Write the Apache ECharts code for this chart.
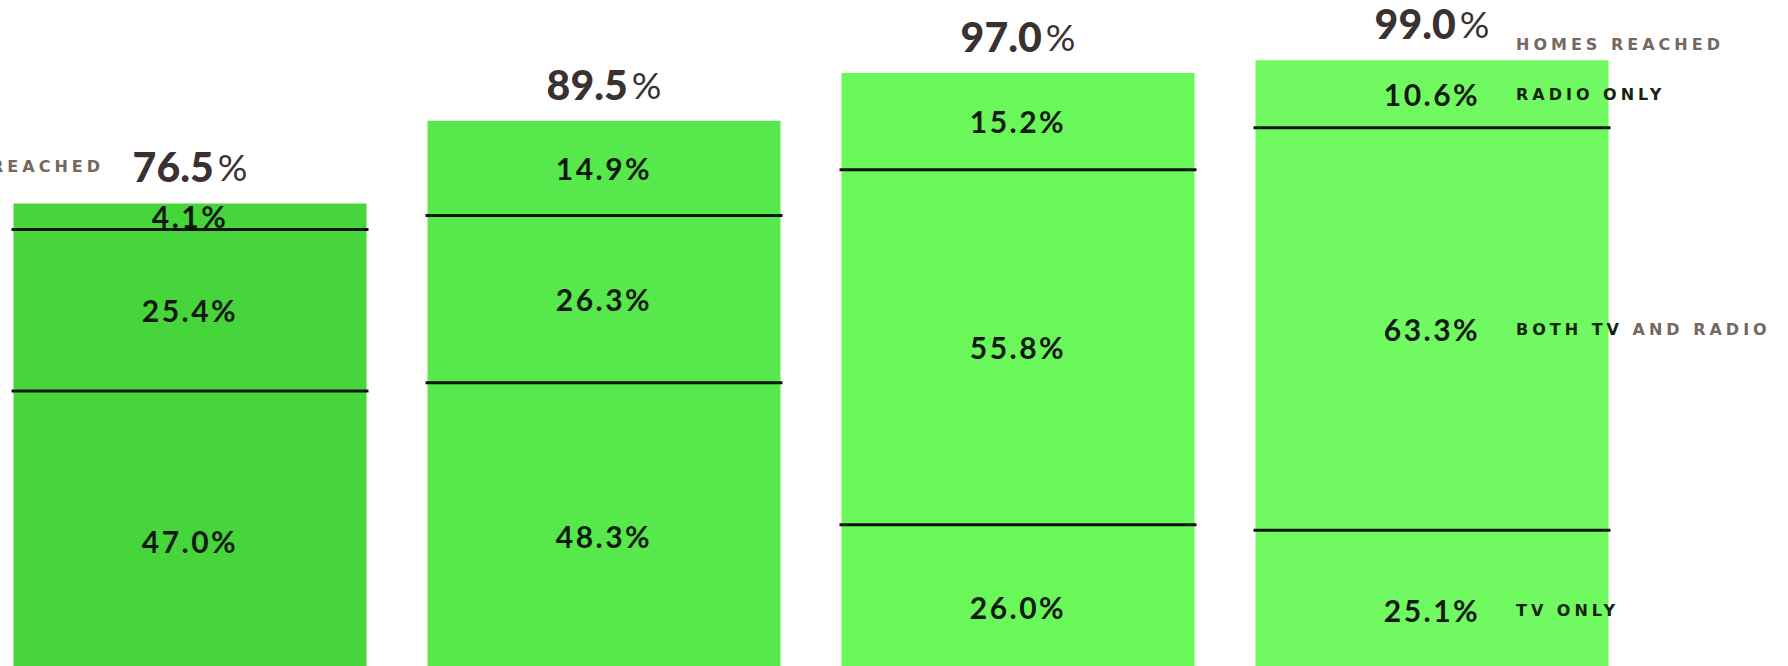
<!DOCTYPE html>
<html>
<head>
<meta charset="utf-8">
<script src="https://cdn.jsdelivr.net/npm/echarts@6/dist/echarts.min.js"></script>
<style>
html,body{margin:0;padding:0;background:#ffffff;overflow:hidden;width:1788px;height:666px;}
#chart{position:absolute;left:-17px;top:0;width:1805px;height:690px;}
#chart text[style*="16px"]{letter-spacing:4px;}
#chart text[style*="30px"]{letter-spacing:2.5px;}
</style>
</head>
<body>
<div id="chart"></div>
<script>
// ---- data ----
const categories = ['Bar 1', 'Bar 2', 'Bar 3', 'Bar 4'];
const tvOnly = [47.0, 48.3, 26.0, 25.1];
const bothTvRadio = [25.4, 26.3, 55.8, 63.3];
const radioOnly = [4.1, 14.9, 15.2, 10.6];
const homesReached = [76.5, 89.5, 97.0, 99.0];
const segmentNames = ['RADIO ONLY', 'BOTH TV AND RADIO', 'TV ONLY'];
const totalCaption = 'HOMES REACHED';

// ---- styles ----
const barColors = ['#46d63c', '#57e94b', '#69f75a', '#70f961'];
const BAR_W = 353;
const labelFont = 'Lato, "DejaVu Sans", sans-serif';
const capFont = '"DejaVu Sans", sans-serif';
const darkInk = '#15240f';
const greyInk = '#74685f';
const CAP_SIZE = 16;
const CAP_SPACING = 4;

// measure caption pieces (with the CSS letter spacing)
const measureCtx = document.createElement('canvas').getContext('2d');
measureCtx.font = 'bold ' + CAP_SIZE + 'px ' + capFont;
function capWidth(str) {
  return measureCtx.measureText(str).width + str.length * CAP_SPACING;
}

const chart = echarts.init(document.getElementById('chart'), null, {renderer: 'svg'});

function barSeries(name, values) {
  return {
    name: name,
    type: 'bar',
    stack: 'homes',
    barWidth: BAR_W,
    data: values,
    itemStyle: {color: p => barColors[p.dataIndex]},
    label: {
      show: true,
      position: 'inside',
      formatter: p => p.value.toFixed(1) + '%',
      color: '#0e1a0e',
      fontFamily: labelFont,
      fontWeight: 'bold',
      fontSize: 30
    },
    emphasis: {disabled: true},
    z: 2
  };
}

const overlayData = categories.map((c, i) => [i, tvOnly[i], tvOnly[i] + bothTvRadio[i], homesReached[i]]);
const last = categories.length - 1;

function capStyle(extra) {
  return Object.assign({fontFamily: capFont, fontSize: CAP_SIZE, fontWeight: 'bold'}, extra);
}

const option = {
  animation: false,
  backgroundColor: '#ffffff',
  grid: {left: 0, width: 1656, top: 54, bottom: 0, containLabel: false},
  xAxis: {type: 'category', data: categories, show: false},
  yAxis: {type: 'value', min: 0, max: 100, show: false},
  series: [
    barSeries('TV only', tvOnly),
    barSeries('Both TV and radio', bothTvRadio),
    barSeries('Radio only', radioOnly),
    {
      type: 'custom',
      data: overlayData,
      z: 5,
      silent: true,
      renderItem: function (params, api) {
        const i = api.value(0);
        const cx = api.coord([i, 0])[0];
        const y1 = api.coord([i, api.value(1)])[1];
        const y2 = api.coord([i, api.value(2)])[1];
        const yTop = api.coord([i, api.value(3)])[1];
        const yBase = api.coord([i, 0])[1];
        const half = BAR_W / 2 + 2;
        const lineStyle = {stroke: '#0d140d', lineWidth: 3};
        const children = [
          {type: 'line', shape: {x1: cx - half, y1: y1, x2: cx + half, y2: y1}, style: lineStyle},
          {type: 'line', shape: {x1: cx - half, y1: y2, x2: cx + half, y2: y2}, style: lineStyle},
          {
            type: 'text',
            style: {
              x: cx, y: yTop - 16,
              text: '{a|' + api.value(3).toFixed(1) + '}{b|%}',
              align: 'center', verticalAlign: 'bottom',
              rich: {
                a: {fontFamily: labelFont, fontWeight: 900, fontSize: 41, fill: '#3a3230', padding: [0, 4, 0, 0]},
                b: {fontFamily: labelFont, fontWeight: 'normal', fontSize: 37, fill: '#3a3230'}
              }
            }
          }
        ];
        if (i === 0) {
          children.push({
            type: 'text',
            style: capStyle({x: cx - 86, y: yTop - 29, text: totalCaption, align: 'right',
              verticalAlign: 'bottom', fill: greyInk})
          });
        }
        if (i === last) {
          const capX = cx + 84;
          children.push({
            type: 'text',
            style: capStyle({x: capX, y: yTop - 8, text: totalCaption, align: 'left',
              verticalAlign: 'bottom', fill: greyInk})
          });
          const mids = [(y2 + yTop) / 2, (y1 + y2) / 2, (yBase + y1) / 2];
          mids.forEach((m, k) => {
            if (k === 1) {
              // part on the bar is dark, part on the paper is grey
              const words = segmentNames[k].split(' ');
              const onBar = words.slice(0, 2).join(' ');
              const offBar = words.slice(2).join(' ');
              children.push({type: 'text', style: capStyle({x: capX, y: m, text: onBar,
                align: 'left', verticalAlign: 'middle', fill: darkInk})});
              children.push({type: 'text', style: capStyle({x: capX + capWidth(onBar + ' '), y: m, text: offBar,
                align: 'left', verticalAlign: 'middle', fill: greyInk})});
            } else {
              children.push({type: 'text', style: capStyle({x: capX, y: m, text: segmentNames[k],
                align: 'left', verticalAlign: 'middle', fill: darkInk})});
            }
          });
        }
        return {type: 'group', children: children};
      }
    }
  ]
};
chart.setOption(option);
</script>
</body>
</html>
